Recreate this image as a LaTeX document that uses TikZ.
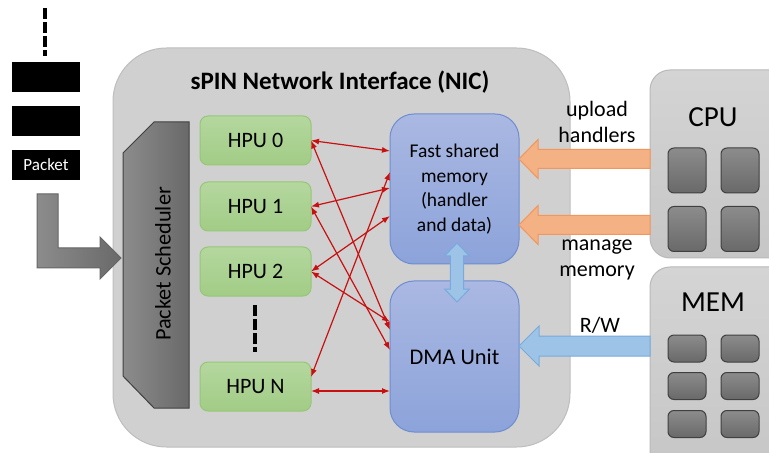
\documentclass[tikz,border=0pt]{standalone}
\usepackage{fontspec}
\setmainfont{Carlito}
\usetikzlibrary{calc,arrows.meta}

\definecolor{nicfill}{RGB}{208,208,208}
\definecolor{nicline}{RGB}{190,190,190}
\definecolor{hputop}{RGB}{180,215,158}
\definecolor{hpubot}{RGB}{162,204,134}
\definecolor{hpuline}{RGB}{150,198,120}
\definecolor{memtop}{RGB}{170,184,226}
\definecolor{membot}{RGB}{140,163,218}
\definecolor{memline}{RGB}{110,142,208}
\definecolor{orfill}{RGB}{244,177,131}
\definecolor{orline}{RGB}{241,150,95}
\definecolor{blfill}{RGB}{157,195,230}
\definecolor{blline}{RGB}{120,170,220}
\definecolor{hosttop}{RGB}{212,212,212}
\definecolor{hostbot}{RGB}{198,198,198}
\definecolor{hostline}{RGB}{185,185,185}
\definecolor{celltop}{RGB}{140,140,140}
\definecolor{cellbot}{RGB}{105,105,105}
\definecolor{cellline}{RGB}{64,64,64}
\definecolor{linkred}{RGB}{200,16,16}

% left-pointing block arrow: style, tail, tip, half shaft, half head, head length
\newcommand{\leftblockarrow}[6]{%
  \draw[#1] ($(#2)+(0,-#4)$) -- ($(#3)+(#6,-#4)$) -- ($(#3)+(#6,-#5)$) -- (#3)
    -- ($(#3)+(#6,#5)$) -- ($(#3)+(#6,#4)$) -- ($(#2)+(0,#4)$) -- cycle;}

\begin{document}
\begin{tikzpicture}[x=0.75pt,y=-0.75pt,
  every node/.style={inner sep=0pt, outer sep=0pt},
  hpubox/.style={draw=hpuline, line width=0.75pt, rounded corners=6pt,
    top color=hputop, bottom color=hpubot, minimum width=83.25pt,
    minimum height=36.75pt, font=\fontsize{16.5pt}{20pt}\selectfont},
  membox/.style={draw=memline, line width=0.75pt, rounded corners=18pt,
    top color=memtop, bottom color=membot, minimum width=96.75pt, align=center},
  hostbox/.style={draw=hostline, line width=0.75pt, rounded corners=15pt,
    top color=hosttop, bottom color=hostbot, minimum width=105pt},
  cell/.style={draw=cellline, line width=0.75pt, rounded corners=4.5pt,
    top color=celltop, bottom color=cellbot, minimum width=28.5pt},
  pktbox/.style={fill=black, minimum width=51pt, minimum height=22.5pt,
    text=white, font=\fontsize{12.8pt}{15pt}\selectfont},
  redlink/.style={draw=linkred, line width=0.9pt,
    arrows={Latex[length=6pt,width=4.5pt]-Latex[length=6pt,width=4.5pt]}},
  orarrow/.style={fill=orfill, draw=orline, line width=0.75pt},
  blarrow/.style={fill=blfill, draw=blline, line width=0.75pt},
  ellipsis/.style={line width=3pt, dash pattern=on 8pt off 2.5pt},
  lbl/.style={font=\fontsize{16.5pt}{19.5pt}\selectfont, align=center}
]
\useasboundingbox (0,0) rectangle (769,453);
\clip (0,0) rectangle (769,453);
\fill[white] (0,0) rectangle (769,453);

% NIC enclosure
\node[draw=nicline, fill=nicfill, line width=0.75pt, rounded corners=40pt,
  minimum width=342.75pt, minimum height=299.25pt] (nic) at (341.5,247.5) {};
\node[font=\bfseries\fontsize{18.8pt}{22pt}\selectfont] (title) at (340,82)
  {sPIN Network Interface (NIC)};

% packet scheduler
\draw[draw=cellline, line width=0.75pt, left color=celltop, right color=cellbot]
  (123,153) -- (154,122) -- (189,122) -- (189,408) -- (154,408) -- (123,376) -- cycle;
\node[rotate=90, font=\fontsize{16.7pt}{19pt}\selectfont] (sched) at (163,264)
  {Packet Scheduler};
\coordinate (schedin) at (121,258);

% incoming packets
\draw[ellipsis] (45,8) -- (45,56);
\node[pktbox] (pk1) at (46,77) {};
\node[pktbox] (pk2) at (46,121) {};
\node[pktbox] (pk3) at (46,165) {Packet};
\draw[draw=cellline!80, line width=0.75pt, left color=celltop, right color=cellbot]
  (37,194) -- (58,194) -- (58,248) -- (100,248) -- (100,237) -- (schedin)
  -- (100,279) -- (100,268) -- (37,268) -- cycle;

% handler processing units
\node[hpubox] (hpu0) at (255.5,140.5) {HPU 0};
\node[hpubox] (hpu1) at (255.5,206.5) {HPU 1};
\node[hpubox] (hpu2) at (255.5,271.5) {HPU 2};
\node[hpubox] (hpun) at (255.5,386.5) {HPU N};
\draw[ellipsis] (255,305) -- (255,352);

% memory and DMA
\node[membox, minimum height=112.5pt, font=\fontsize{14.6pt}{18.3pt}\selectfont]
  (fsm) at (454.5,189) {Fast shared\\memory\\(handler\\and data)};
\node[membox, minimum height=113.25pt, font=\fontsize{16.8pt}{20pt}\selectfont]
  (dma) at (454.5,356.5) {DMA Unit};

% link between shared memory and DMA unit
\draw[blarrow] (457,243) -- (469.5,256) -- (463.7,256) -- (463.7,289) -- (469.5,289)
  -- (457,302) -- (444.5,289) -- (450.3,289) -- (450.3,256) -- (444.5,256) -- cycle;

% HPU <-> memory links
\draw[redlink] (hpu0.east) -- (fsm.west |- 0,151);
\draw[redlink] (hpu0.east) -- (dma.west |- 0,330);
\draw[redlink] (hpu1.east) -- (fsm.west |- 0,188);
\draw[redlink] (hpu1.east) -- (dma.west |- 0,350);
\draw[redlink] (hpu2.east) -- (fsm.west |- 0,216);
\draw[redlink] (hpu2.east) -- (dma.west |- 0,322);
\draw[redlink] (hpun.east |- 0,377) -- (fsm.west |- 0,172);
\draw[redlink] (hpun.east |- 0,391) -- (dma.west |- 0,391);

% host CPU
\node[hostbox, minimum height=141pt] (cpu) at (720,164) {};
\node[font=\fontsize{21.8pt}{26pt}\selectfont] (cputxt) at (713,117) {CPU};
\node[cell, minimum height=33.75pt] (c1) at (687,170.5) {};
\node[cell, minimum height=33.75pt] (c2) at (740,170.5) {};
\node[cell, minimum height=33.75pt] (c3) at (687,229) {};
\node[cell, minimum height=33.75pt] (c4) at (740,229) {};

% host memory
\node[hostbox, minimum height=154.5pt] (mem) at (720,370) {};
\node[font=\fontsize{21.8pt}{26pt}\selectfont] (memtxt) at (713,302) {MEM};
\node[cell, minimum height=20.25pt] (m1) at (687,348.5) {};
\node[cell, minimum height=20.25pt] (m2) at (740,348.5) {};
\node[cell, minimum height=20.25pt] (m3) at (687,386) {};
\node[cell, minimum height=20.25pt] (m4) at (740,386) {};
\node[cell, minimum height=20.25pt] (m5) at (687,424) {};
\node[cell, minimum height=20.25pt] (m6) at (740,424) {};

% host -> NIC block arrows
\coordinate (upS) at (cpu.west |- 0,159);
\coordinate (upE) at (fsm.east |- 0,159);
\coordinate (mgS) at (cpu.west |- 0,225);
\coordinate (mgE) at (fsm.east |- 0,225);
\coordinate (rwS) at (mem.west |- 0,346);
\coordinate (rwE) at (dma.east |- 0,346);
\leftblockarrow{orarrow}{upS}{upE}{9.5}{19.5}{19}
\leftblockarrow{orarrow}{mgS}{mgE}{9.5}{19.5}{19}
\leftblockarrow{blarrow}{rwS}{rwE}{10}{20}{20}

\node[lbl] (uplbl) at (597,122) {upload\\handlers};
\node[lbl] (mglbl) at (597,260) {manage\\memory};
\node[lbl] (rwlbl) at (600,325) {R/W};
\end{tikzpicture}
\end{document}
